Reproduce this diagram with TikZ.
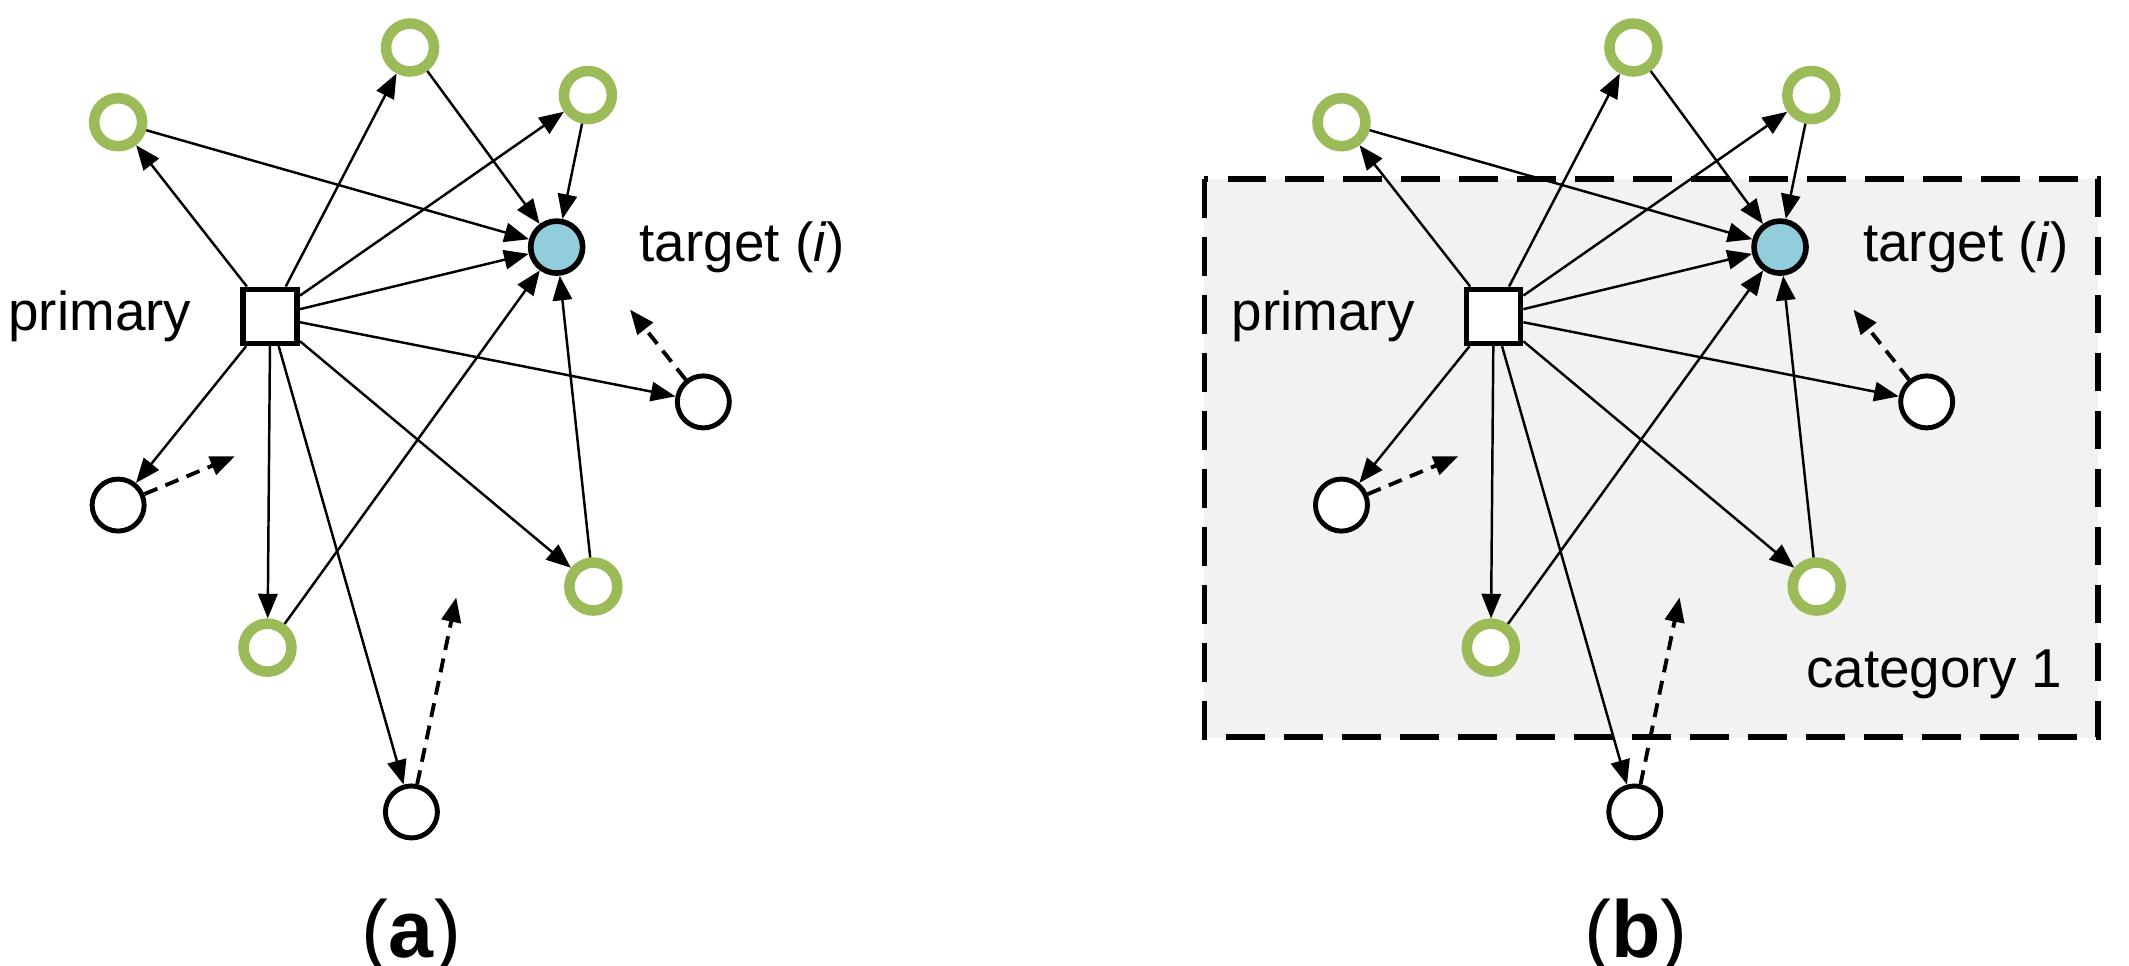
\documentclass[tikz,border=0pt]{standalone}
\usepackage{fontspec}
\setmainfont{Liberation Sans}
\usetikzlibrary{arrows.meta}
\definecolor{gr}{RGB}{155,187,89}
\definecolor{tb}{RGB}{146,205,220}
\definecolor{bx}{RGB}{242,242,242}
\begin{document}
\begin{tikzpicture}[x=0.01358cm,y=-0.01358cm,
  wc/.style={circle,draw,line width=1.4pt,fill=white,minimum size=0.52cm,inner sep=0},
  gc/.style={circle,draw=gr,line width=3pt,fill=white,minimum size=0.48cm,inner sep=0},
  tc/.style={circle,draw,line width=1.6pt,fill=tb,minimum size=0.52cm,inner sep=0},
  sq/.style={draw,line width=1.6pt,fill=white,minimum size=0.54cm,inner sep=0},
  ar/.style={-{Triangle[length=7pt,width=5.5pt]},line width=0.7pt},
  da/.style={ar,line width=1.1pt,dash pattern=on 4pt off 2.5pt},
  lab/.style={font=\fontsize{15.6}{18}\selectfont},
  captxt/.style={font=\fontsize{23}{26}\selectfont\rmfamily}]
\useasboundingbox (0,0) rectangle (1568,711);
\draw[bx,fill=bx] (887,132) rectangle (1545,543);
\draw[line width=1.6pt,dash pattern=on 11pt off 5.5pt] (887,132) rectangle (1545,543);
\node[lab,anchor=east] (cat) at (1528,497) {category 1};
\foreach \s/\d in {a/0,b/901}{
\begin{scope}[xshift=\d*0.01358cm]
\node[sq] (\s p) at (199,233) {};
\node[tc] (\s t) at (410,182) {};
\node[gc] (\s g1) at (87,90) {};
\node[gc] (\s g2) at (302,35) {};
\node[gc] (\s g3) at (433,70) {};
\node[gc] (\s g4) at (437,432) {};
\node[gc] (\s g5) at (197,477) {};
\node[wc] (\s w1) at (518,296) {};
\node[wc] (\s w2) at (87,372) {};
\node[wc] (\s w3) at (303,598) {};
\coordinate (\s d1) at (464,228);
\coordinate (\s d2) at (173,336);
\coordinate (\s d3) at (336,440);
\foreach \n in {g1,g2,g3,t,w1,w2,g5,w3,g4}{\draw[ar] (\s p) -- (\s\n);}
\foreach \n in {g1,g2,g3,g4,g5}{\draw[ar] (\s\n) -- (\s t);}
\draw[da] (\s w1) -- (\s d1);
\draw[da] (\s w2) -- (\s d2);
\draw[da] (\s w3) -- (\s d3);
\node[lab,anchor=east] (\s pl) at (150,233) {primary};
\node[lab,anchor=west] (\s tl) at (462,182) {target (\textit{i})};
\end{scope}}
\node[captxt] (ca) at (303,690) {(\textbf{a})};
\node[captxt] (cb) at (1205,690) {(\textbf{b})};
\end{tikzpicture}
\end{document}
